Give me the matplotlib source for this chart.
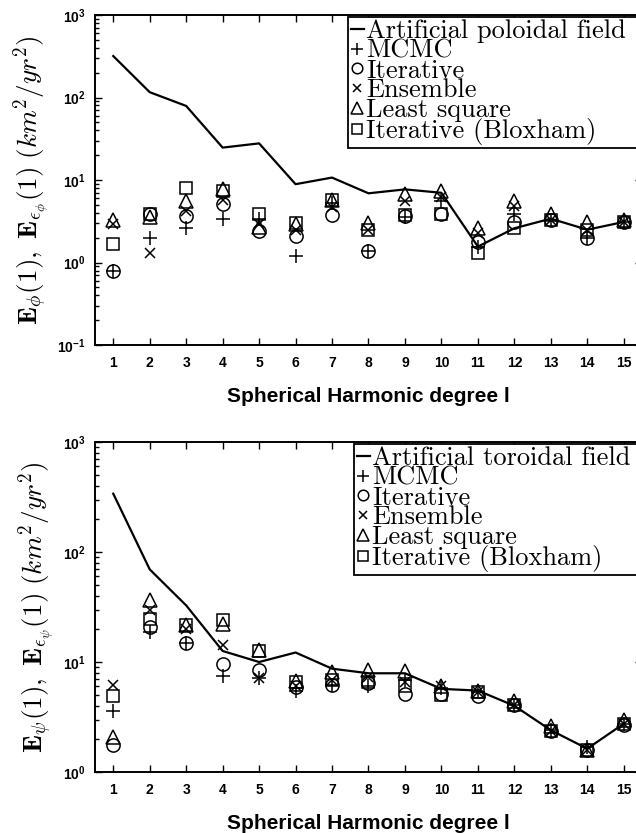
import matplotlib
matplotlib.use('Agg')
import matplotlib.pyplot as plt

plt.rcParams['font.family'] = ['Liberation Sans', 'DejaVu Sans']
plt.rcParams['mathtext.fontset'] = 'custom'
plt.rcParams['mathtext.rm'] = 'Liberation Sans:bold'
plt.rcParams['mathtext.bf'] = 'Liberation Sans:bold'
plt.rcParams['mathtext.it'] = 'Liberation Sans:bold'

degree = list(range(1, 16))
xtick_labels = [str(d) for d in degree]

# poloidal spectra (top panel)
pol_true = [318, 116, 79, 24.7, 27.8, 8.9, 10.7, 6.9, 7.7, 7.0, 1.56, 2.6, 3.4, 2.5, 3.1]
pol_mcmc = [0.80, 2.0, 2.6, 3.4, 3.4, 1.21, 5.2, 1.39, 3.6, 5.5, 1.56, 3.9, 3.3, 2.0, 3.1]
pol_iter = [0.80, 3.9, 3.7, 5.1, 2.4, 2.1, 3.8, 1.39, 3.7, 3.9, 1.79, 3.1, 3.3, 1.96, 3.1]
pol_ens = [2.9, 1.29, 4.25, 5.8, 2.9, 2.5, 4.75, 2.5, 5.5, 6.3, 2.3, 4.9, 3.3, 2.5, 3.1]
pol_lsq = [3.3, 3.6, 5.5, 7.7, 2.7, 2.9, 5.7, 3.0, 6.7, 7.4, 2.6, 5.6, 3.9, 3.1, 3.3]
pol_blox = [1.66, 3.9, 7.9, 7.4, 3.9, 3.0, 5.7, 2.5, 3.8, 3.9, 1.32, 2.6, 3.3, 2.5, 3.1]

# toroidal spectra (bottom panel)
tor_true = [339, 69.5, 32.7, 12.6, 10.0, 12.2, 8.7, 7.9, 7.9, 5.7, 5.5, 4.0, 2.4, 1.63, 2.75]
tor_mcmc = [3.6, 18.7, 14.9, 7.5, 7.1, 5.4, 6.2, 6.1, 6.8, 5.8, 5.3, 4.1, 2.4, 1.7, 2.75]
tor_iter = [1.75, 20.8, 14.9, 9.5, 8.4, 5.9, 6.2, 6.4, 5.15, 5.15, 4.9, 4.1, 2.35, 1.57, 2.65]
tor_ens = [6.2, 29.5, 20.0, 14.4, 7.1, 6.1, 6.8, 7.3, 6.6, 6.0, 5.3, 4.1, 2.35, 1.57, 2.75]
tor_lsq = [2.08, 36.4, 21.8, 22.3, 12.9, 6.7, 8.1, 8.4, 8.2, 6.1, 5.4, 4.4, 2.6, 1.57, 3.0]
tor_blox = [4.9, 24.8, 21.5, 23.9, 12.7, 6.6, 6.8, 6.6, 6.0, 5.0, 5.3, 4.1, 2.35, 1.57, 2.75]

method_names = ['MCMC', 'Iterative', 'Ensemble', 'Least square', 'Iterative (Bloxham)']
method_markers = ['+', 'o', 'x', '^', 's']
marker_sizes = [10, 9.5, 7, 10, 9]


def draw_panel(ax, true_vals, estimates, true_name, ylabel, ylim, yticks, ytick_labels, leg_x0):
    ax.plot(degree, true_vals, color='k', lw=1.6, label=true_name)
    for vals, name, mk, ms in zip(estimates, method_names, method_markers, marker_sizes):
        ax.plot(degree, vals, ls='none', marker=mk, ms=ms, mfc='none',
                mec='k', mew=1.1, label=name)
    ax.set_yscale('log')
    ax.set_xlim(0.5, 15.5)
    ax.set_ylim(*ylim)
    ax.set_xticks(degree)
    ax.set_xticklabels(xtick_labels, fontsize=10, fontweight='bold')
    ax.set_yticks(yticks)
    ax.set_yticklabels(ytick_labels, fontsize=10)
    ax.tick_params(which='both', direction='in', top=True, right=True, width=1.0)
    ax.tick_params(which='major', length=5)
    ax.tick_params(which='minor', length=3)
    ax.tick_params(axis='x', pad=8)
    ax.tick_params(axis='y', pad=7)
    for sp in ax.spines.values():
        sp.set_linewidth(1.4)
    ax.set_xlabel('Spherical Harmonic degree l', fontsize=15, fontweight='bold', labelpad=12)
    yl = ax.set_ylabel(ylabel, fontsize=19.5, labelpad=3)
    yl.set_math_fontfamily('cm')
    # legend box stretched to the right-hand axis edge
    leg = ax.legend(loc='upper right', bbox_to_anchor=(leg_x0, 0, 1.0 - leg_x0, 0.995),
                    mode='expand', fancybox=False,
                    edgecolor='k', framealpha=1, prop={'family': 'cmr10', 'size': 19},
                    handlelength=0.5, handletextpad=0.1, labelspacing=-0.15,
                    borderpad=0.1, borderaxespad=0, markerscale=0.8)
    leg.get_frame().set_linewidth(1.3)


fig = plt.figure(figsize=(6.36, 8.33), dpi=100)
ax1 = fig.add_axes([0.1494, 0.5858, 0.860, 0.3962])
ax2 = fig.add_axes([0.1494, 0.0732, 0.860, 0.3962])

draw_panel(ax1, pol_true, [pol_mcmc, pol_iter, pol_ens, pol_lsq, pol_blox],
           'Artificial poloidal field',
           r'$\mathbf{E}_{\phi}(\mathbf{1}),\ \mathbf{E}_{\epsilon_{\phi}}(\mathbf{1})\ (km^2/yr^2)$',
           (0.1, 1000), [0.1, 1, 10, 100, 1000],
           [r'$10^{-1}$', r'$10^{0}$', r'$10^{1}$', r'$10^{2}$', r'$10^{3}$'], 0.4625)
draw_panel(ax2, tor_true, [tor_mcmc, tor_iter, tor_ens, tor_lsq, tor_blox],
           'Artificial toroidal field',
           r'$\mathbf{E}_{\psi}(\mathbf{1}),\ \mathbf{E}_{\epsilon_{\psi}}(\mathbf{1})\ (km^2/yr^2)$',
           (1, 1000), [1, 10, 100, 1000],
           [r'$10^{0}$', r'$10^{1}$', r'$10^{2}$', r'$10^{3}$'], 0.4735)

fig.savefig('out.png', dpi=100)
